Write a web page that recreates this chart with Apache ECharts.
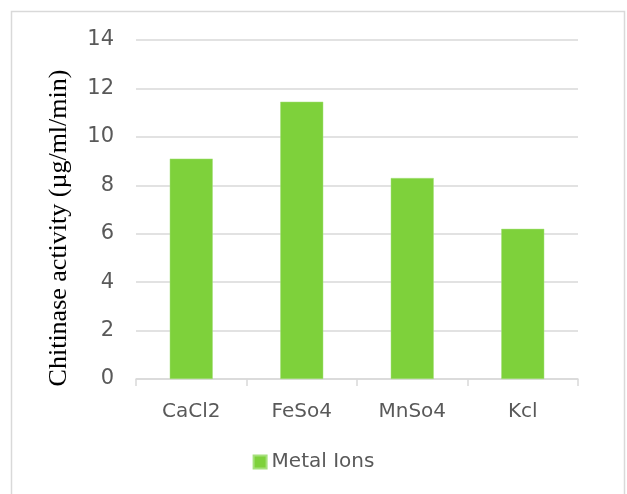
<!DOCTYPE html>
<html>
<head>
<meta charset="utf-8">
<script src="https://cdn.jsdelivr.net/npm/echarts@6/dist/echarts.min.js"></script>
<style>
  html, body { margin: 0; padding: 0; background: #fff; }
  #chart { width: 627px; height: 494px; }
</style>
</head>
<body>
<div id="chart"></div>
<script>
// Chitinase activity by metal ion
const categories = ['CaCl2', 'FeSo4', 'MnSo4', 'Kcl'];
const activity = [9.1, 11.45, 8.3, 6.2];
const seriesName = 'Metal Ions';
const yAxisTitle = 'Chitinase activity (\u00b5g/ml/min)';

const tickFont = 'DejaVu Sans';
const grey = '#d9d9d9';

const chart = echarts.init(document.getElementById('chart'));
chart.setOption({
  animation: false,
  backgroundColor: '#fff',
  graphic: [
    {
      type: 'rect',
      shape: { x: 11.5, y: 11.5, width: 613, height: 500 },
      style: { fill: 'none', stroke: grey, lineWidth: 1.5 },
      silent: true
    },
    {
      type: 'text',
      x: 59,
      y: 228,
      rotation: Math.PI / 2,
      style: {
        text: yAxisTitle,
        font: '26px "Liberation Serif"',
        fill: '#000',
        align: 'center',
        verticalAlign: 'middle'
      }
    }
  ],
  grid: { left: 136, right: 49, top: 40, bottom: 115, containLabel: false },
  legend: {
    data: [seriesName],
    bottom: 17,
    left: 'center',
    itemWidth: 13,
    itemHeight: 13,
    itemGap: 6,
    icon: 'rect',
    textStyle: { fontFamily: tickFont, fontSize: 20, color: '#595959' }
  },
  xAxis: {
    type: 'category',
    data: categories,
    boundaryGap: true,
    axisLine: { lineStyle: { color: grey, width: 1.5 } },
    axisTick: { show: true, length: 7, alignWithLabel: false, lineStyle: { color: grey, width: 1.5 } },
    axisLabel: { fontFamily: tickFont, fontSize: 20, color: '#595959', margin: 23 }
  },
  yAxis: {
    type: 'value',
    min: 0,
    max: 14,
    interval: 2,
    axisLine: { show: false },
    axisTick: { show: false },
    splitLine: { lineStyle: { color: grey, width: 1.5 } },
    axisLabel: { fontFamily: tickFont, fontSize: 21, color: '#595959', margin: 22 }
  },
  series: [{
    name: seriesName,
    type: 'bar',
    data: activity,
    barWidth: 43,
    itemStyle: { color: '#7ed13b', borderColor: '#a6e07c', borderWidth: 0.5 }
  }]
});
</script>
</body>
</html>
